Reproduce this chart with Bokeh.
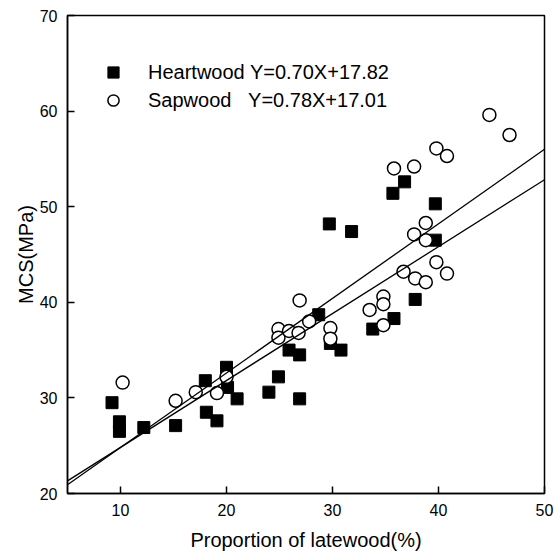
import numpy as np
from bokeh.plotting import figure
from bokeh.models import Range1d, FixedTicker, Legend, LegendItem
from bokeh.embed import file_html
from bokeh.resources import INLINE

# Data
heart_x = [9.2, 9.9, 9.9, 12.2, 15.2, 18.0, 18.1, 19.1, 20.0, 20.1, 21.0, 24.0, 24.9, 25.9,
           26.9, 26.9, 28.7, 29.7, 29.8, 30.8, 31.8, 33.8, 35.7, 36.8, 35.8, 37.8, 39.7, 39.7]
heart_y = [29.5, 27.5, 26.5, 26.9, 27.1, 31.8, 28.5, 27.6, 33.2, 31.1, 29.9, 30.6, 32.2, 35.0,
           34.5, 29.9, 38.7, 48.2, 35.7, 35.0, 47.4, 37.2, 51.4, 52.6, 38.3, 40.3, 50.3, 46.5]

sap_x = [10.2, 15.2, 17.1, 19.1, 20.0, 24.9, 24.9, 25.9, 26.8, 26.9, 27.8, 29.8, 29.8, 33.5,
         34.8, 34.8, 34.8, 36.7, 37.8, 38.8, 39.8, 40.8, 44.8, 46.7, 39.8, 40.8, 35.8, 37.7,
         38.8, 37.7, 38.8]
sap_y = [31.6, 29.7, 30.6, 30.5, 32.2, 37.2, 36.3, 37.0, 36.8, 40.2, 38.0, 37.3, 36.2, 39.2,
         40.6, 39.8, 37.6, 43.2, 42.5, 42.1, 44.2, 43.0, 59.6, 57.5, 56.1, 55.3, 54.0, 54.2,
         48.3, 47.1, 46.5]

heart_fit = (0.70, 17.82)
sap_fit = (0.78, 17.01)
fit_x = [5, 50]

x_ticks = [10, 20, 30, 40, 50]
y_ticks = [20, 30, 40, 50, 60, 70]

FONT = "Liberation Sans"

p = figure(width=554, height=557, output_backend="svg", toolbar_location=None,
           x_range=Range1d(5, 50), y_range=Range1d(20, 70),
           min_border_left=67, min_border_right=10, min_border_top=15, min_border_bottom=64)

p.xgrid.visible = False
p.ygrid.visible = False
p.outline_line_color = "black"
p.outline_line_width = 1.5
p.background_fill_color = "white"
p.border_fill_color = "white"

for ax in (p.xaxis[0], p.yaxis[0]):
    ax.axis_line_color = "black"
    ax.axis_line_width = 1.5
    ax.major_tick_in = 7
    ax.major_tick_out = 0
    ax.major_tick_line_width = 1.5
    ax.minor_tick_line_color = None
    ax.major_label_text_font = FONT
    ax.major_label_text_font_size = "16px"
    ax.major_label_text_color = "black"
    ax.axis_label_text_font = FONT
    ax.axis_label_text_font_size = "20px"
    ax.axis_label_text_font_style = "normal"
    ax.axis_label_text_color = "black"

p.xaxis.ticker = FixedTicker(ticks=x_ticks)
p.yaxis.ticker = FixedTicker(ticks=y_ticks)
p.xaxis.axis_label = "Proportion of latewood(%)"
p.yaxis.axis_label = "MCS(MPa)"
p.xaxis.major_label_standoff = 10
p.xaxis.axis_label_standoff = 10
p.yaxis.major_label_standoff = 10
p.yaxis.axis_label_standoff = 0

r_h = p.scatter(heart_x, heart_y, marker="square", size=12, fill_color="black",
                line_color="black", line_width=1)
r_s = p.scatter(sap_x, sap_y, marker="circle", size=13, fill_color="white",
                line_color="black", line_width=1.5)

fx = np.array(fit_x, dtype=float)
p.line(fx, heart_fit[0] * fx + heart_fit[1], line_color="black", line_width=1.3)
p.line(fx, sap_fit[0] * fx + sap_fit[1], line_color="black", line_width=1.3)

legend = Legend(items=[
    LegendItem(label="Heartwood Y=0.70X+17.82", renderers=[r_h]),
    LegendItem(label="Sapwood\u00a0\u00a0\u00a0Y=0.78X+17.01", renderers=[r_s]),
], location=(32, 379), padding=0, margin=0, spacing=0,
    glyph_width=28, glyph_height=28, label_standoff=21,
    label_text_font=FONT, label_text_font_size="20px", label_text_color="black",
    border_line_color=None, background_fill_alpha=0)
p.add_layout(legend)

open("out.html", "w").write(file_html(p, INLINE))
